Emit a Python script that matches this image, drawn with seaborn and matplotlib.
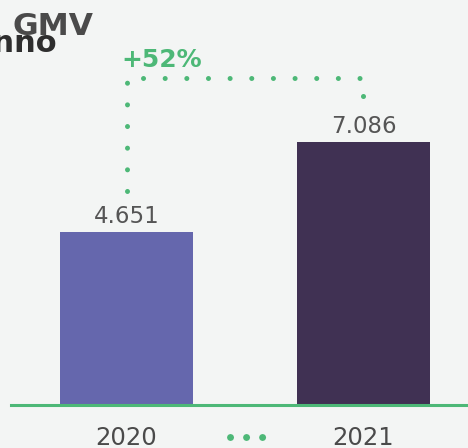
import numpy as np
import pandas as pd
import seaborn as sns
import matplotlib.pyplot as plt
from matplotlib.lines import Line2D

# Chart data
years = ['2020', '2021']
gmv = [4651, 7086]
bar_colors = ['#6567ad', '#403153']
green = '#4db877'
bg = '#f3f5f4'

df = pd.DataFrame({'year': years, 'gmv': gmv})
growth = gmv[1] / gmv[0] - 1

fig = plt.figure(figsize=(4.68, 4.48), dpi=100, facecolor=bg)
ax = fig.add_axes([0, 43 / 448, 1, 405 / 448])
ax.set_facecolor(bg)

sns.barplot(data=df, x='year', y='gmv', hue='year', palette=bar_colors,
            width=0.561, saturation=1, legend=False, ax=ax)

ax.set_xlim(-0.534, 1.441)
ax.set_ylim(0, 10912)

# value labels above bars (European thousands separator)
for cont in ax.containers:
    ax.bar_label(cont, labels=[f'{v:,.0f}'.replace(',', '.') for v in cont.datavalues],
                 padding=3, fontsize=16.5, color='#555555')

# baseline
ax.axhline(0, xmin=11 / 468, xmax=1, color=green, lw=2.2, clip_on=False)

# growth connector made of dots
dot = dict(color=green, lw=3.6, ls=(0, (0.01, 4.32)), dash_capstyle='round')
y_top = gmv[1] * 1.243
ax.plot([0, 0], [gmv[0] + 1115, y_top - 110], **dot)
ax.plot([0.07, 0.985], [y_top, y_top], **dot)
ax.plot([1], [y_top - 485], 'o', color=green, ms=3.6, mec='none')
ax.text(-0.02, y_top + 300, f'+{growth:.0%}', color=green, fontsize=18,
        fontweight='bold', ha='left', va='baseline')

# ticks and axes
sns.despine(ax=ax, left=True, bottom=True)
ax.set_yticks([])
ax.set_xlabel('')
ax.set_ylabel('')
ax.tick_params(axis='x', length=0, pad=15, labelsize=17.5, labelcolor='#4a4a4a')

# three dots between the years
fig.add_artist(Line2D([230 / 468, 262.5 / 468], [1 - 437 / 448] * 2,
                      transform=fig.transFigure, color=green, lw=5,
                      ls=(0, (0.01, 2.3)), dash_capstyle='round'))

# title fragments
fig.text(57 / 468, 1 - 52 / 448, 'Volume anno', color='#2e2e2e', fontsize=22,
         fontweight='bold', ha='right', va='baseline')
fig.text(13 / 468, 1 - 35 / 448, 'GMV', color='#4a4a4a', fontsize=22.5,
         fontweight='bold', ha='left', va='baseline')

fig.savefig('out.png', dpi=100, facecolor=bg)
